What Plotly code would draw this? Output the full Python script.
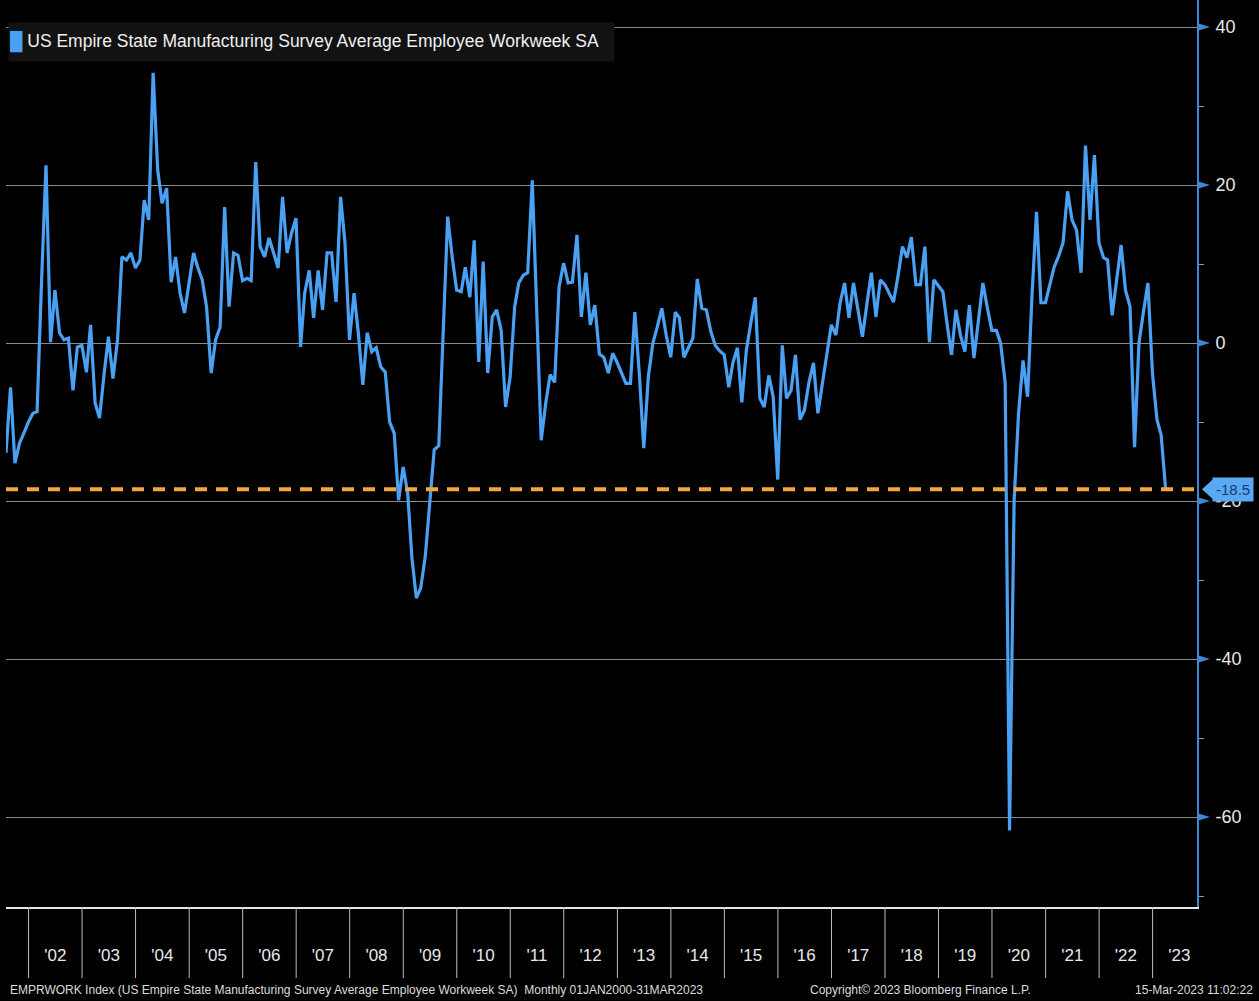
import pandas as pd
import plotly.graph_objects as go

# ---------------- data (monthly, Jul 2001 - Mar 2023) ----------------
v2001 = [-13.9, -5.6, -15.2, -12.7, -11.4, -10.0]
v2002 = [-8.9, -8.7, 8.0, 22.5, 0.1, 6.7, 1.3, 0.4, 0.6, -6.0, -0.5, -0.3]
v2003 = [-3.7, 2.3, -7.6, -9.5, -4.0, 0.8, -4.5, 0.4, 10.9, 10.5, 11.4, 9.5]
v2004 = [10.5, 18.1, 15.6, 34.2, 21.9, 17.7, 19.6, 7.7, 10.9, 6.3, 3.8, 7.6]
v2005 = [11.4, 9.6, 8.0, 4.5, -3.8, 0.4, 2.0, 17.2, 4.6, 11.4, 11.1, 7.9]
v2006 = [8.2, 7.9, 22.9, 12.2, 10.9, 13.3, 11.4, 9.5, 18.5, 11.4, 13.9, 15.8]
v2007 = [-0.5, 6.3, 9.2, 3.2, 9.2, 4.2, 11.4, 11.4, 5.2, 18.5, 12.7, 0.4]
v2008 = [6.3, 1.3, -5.3, 1.3, -1.1, -0.6, -3.0, -3.7, -10.0, -11.4, -19.9, -15.7]
v2009 = [-19.0, -27.0, -32.3, -31.0, -27.0, -20.0, -13.5, -13.0, 2.0, 16.0, 11.0, 6.7]
v2010 = [6.5, 9.6, 5.8, 13.0, -2.4, 10.3, -3.8, 3.3, 4.2, 1.6, -8.1, -4.3]
v2011 = [4.6, 7.6, 8.6, 8.9, 20.6, 4.2, -12.3, -7.6, -4.0, -5.0, 7.1, 10.1]
v2012 = [7.6, 7.7, 13.7, 3.3, 8.9, 2.3, 4.8, -1.4, -1.8, -3.8, -1.3, -2.5]
v2013 = [-3.8, -5.1, -5.1, 3.9, -4.0, -13.3, -4.3, 0.0, 2.0, 4.4, 1.0, -1.8]
v2014 = [3.9, 3.2, -1.8, -0.5, 0.6, 8.1, 4.4, 4.2, 1.5, -0.3, -1.0, -1.5]
v2015 = [-5.6, -2.5, -0.6, -7.5, -0.9, 2.5, 5.8, -7.0, -8.1, -4.1, -6.8, -17.3]
v2016 = [-0.3, -7.0, -6.0, -1.5, -9.7, -8.5, -5.0, -2.5, -8.9, -5.1, -1.5, 2.3]
v2017 = [1.0, 5.0, 7.6, 3.2, 7.6, 4.2, 0.8, 5.0, 8.9, 3.3, 8.0, 7.4]
v2018 = [6.3, 5.2, 8.5, 12.2, 10.8, 13.4, 7.4, 7.4, 12.2, 0.1, 8.0, 7.3]
v2019 = [6.5, 2.5, -1.5, 4.2, 1.0, -1.1, 4.8, -1.9, 3.0, 7.6, 4.5, 1.6]
v2020 = [1.6, 0.0, -5.0, -61.7, -20.0, -9.0, -2.2, -6.8, 6.0, 16.6, 5.1, 5.1]
v2021 = [7.5, 9.6, 11.0, 12.7, 19.2, 15.6, 14.3, 8.9, 25.0, 15.6, 23.8, 12.7]
v2022 = [10.8, 10.5, 3.5, 8.0, 12.4, 6.7, 4.6, -13.2, 0.0, 4.0, 7.6, -3.8]
v2023 = [-9.7, -11.6, -18.5]

first_month = "2001-07-01"
y_ticks = [-60, -40, -20, 0, 20, 40]
y_minor = [-70, -50, -30, -10, 10, 30]
year_starts = [f"{y}-01-01" for y in range(2002, 2024)]
series_name = "US Empire State Manufacturing Survey Average Employee Workweek SA"
footer_left = ("EMPRWORK Index (US Empire State Manufacturing Survey Average Employee "
               "Workweek SA)  Monthly 01JAN2000-31MAR2023")
footer_mid = "Copyright\u00a9 2023 Bloomberg Finance L.P."
footer_right = "15-Mar-2023 11:02:22"

values = (v2001 + v2002 + v2003 + v2004 + v2005 + v2006 + v2007 + v2008 + v2009
          + v2010 + v2011 + v2012 + v2013 + v2014 + v2015 + v2016 + v2017 + v2018
          + v2019 + v2020 + v2021 + v2022 + v2023)
dates = pd.date_range(first_month, periods=len(values), freq="MS") + pd.offsets.MonthEnd(0)
last_val = values[-1]

# ---------------- styling ----------------
W, H = 1259, 1001
ML, MR, MT, MB = 6, 62, 0, 94
PW = W - ML - MR
PH = H - MT - MB
FONT = "Liberation Sans, Arial, sans-serif"
BLUE = "#4aa0f2"
AXBLUE = "#3f86d6"
ORANGE = "#f2a93b"

fig = go.Figure()
fig.add_trace(go.Scatter(x=dates, y=values, mode="lines",
                         line=dict(color=BLUE, width=3.2), name=series_name,
                         showlegend=False))

shapes = []
# last value dashed line
shapes.append(dict(type="line", xref="paper", yref="y", x0=0, x1=1,
                   y0=last_val, y1=last_val,
                   line=dict(color=ORANGE, width=4, dash="12px,9px"), layer="above"))
# year boundary ticks below the x axis
for d in year_starts:
    shapes.append(dict(type="line", xref="x", yref="paper", x0=d, x1=d,
                       y0=0, y1=-71 / PH, line=dict(color="#bdbdbd", width=1)))
# blue arrow markers at major y ticks
px = 1 / PW
hu = 4 / 7.9
for v in y_ticks:
    shapes.append(dict(type="path", xref="paper", yref="y",
                       path=f"M 1,{v - hu} L {1 + 13 * px},{v} L 1,{v + hu} Z",
                       fillcolor=AXBLUE, line=dict(width=0)))
# pointer of last-value label
hl = 10 / 7.9
shapes.append(dict(type="path", xref="paper", yref="y",
                   path=f"M {1 + 5 * px},{last_val} L {1 + 16 * px},{last_val + hl} "
                        f"L {1 + 16 * px},{last_val - hl} Z",
                   fillcolor="#5aa9f0", line=dict(width=0)))

annotations = []
annotations.append(dict(xref="paper", yref="y", x=1 + 15 * px, y=last_val,
                        xanchor="left", yanchor="middle", showarrow=False,
                        text=f"{last_val:.1f}", bgcolor="#5aa9f0", borderpad=3,
                        font=dict(family=FONT, size=15, color="#123a74")))
annotations.append(dict(xref="paper", yref="paper", x=2 / PW, y=1 - 22 / PH,
                        xanchor="left", yanchor="top", showarrow=False,
                        align="left", width=603, height=36, bgcolor="#121212",
                        text=f"<span style='color:{BLUE}'>\u2588</span> {series_name}",
                        font=dict(family=FONT, size=17.5, color="#f0f0f0")))
fy = -(990 - PH) / PH
annotations.append(dict(xref="paper", yref="paper", x=2 / PW, y=fy,
                        xanchor="left", yanchor="middle", showarrow=False,
                        text=footer_left, font=dict(family=FONT, size=12, color="#dcdcdc")))
annotations.append(dict(xref="paper", yref="paper", x=(920 - ML) / PW, y=fy,
                        xanchor="center", yanchor="middle", showarrow=False,
                        text=footer_mid, font=dict(family=FONT, size=12, color="#dcdcdc")))
annotations.append(dict(xref="paper", yref="paper", x=(1255 - ML) / PW, y=fy,
                        xanchor="right", yanchor="middle", showarrow=False,
                        text=footer_right, font=dict(family=FONT, size=12, color="#dcdcdc")))

fig.update_layout(
    width=W, height=H,
    margin=dict(l=ML, r=MR, t=MT, b=MB),
    paper_bgcolor="black", plot_bgcolor="black",
    showlegend=False,
    shapes=shapes, annotations=annotations,
    xaxis=dict(range=["2001-07-31", "2023-10-31"], type="date",
               showgrid=False, zeroline=False,
               showline=True, linecolor="#e6e6e6", linewidth=2,
               ticks="", dtick="M12", tick0="2002-01-01", tickformat="'%y",
               ticklabelmode="period", ticklabelstandoff=32,
               tickfont=dict(family=FONT, size=17, color="#e8e8e8")),
    yaxis=dict(range=[-71.39, 43.42], side="right",
               tickvals=y_ticks, ticktext=[str(v) for v in y_ticks],
               showgrid=True, gridcolor="#8a8a8a", gridwidth=1, zeroline=False,
               showline=True, linecolor=AXBLUE, linewidth=2,
               ticks="outside", ticklen=13, tickcolor="rgba(0,0,0,0)",
               minor=dict(tickvals=y_minor, ticks="outside", ticklen=5,
                          tickcolor="#9a9a9a", showgrid=False),
               tickfont=dict(family=FONT, size=18, color="#e8e8e8")),
)

fig.write_html("out.html", config={"displayModeBar": False},
               post_script="document.body.style.margin='0';document.body.style.background='black';")
